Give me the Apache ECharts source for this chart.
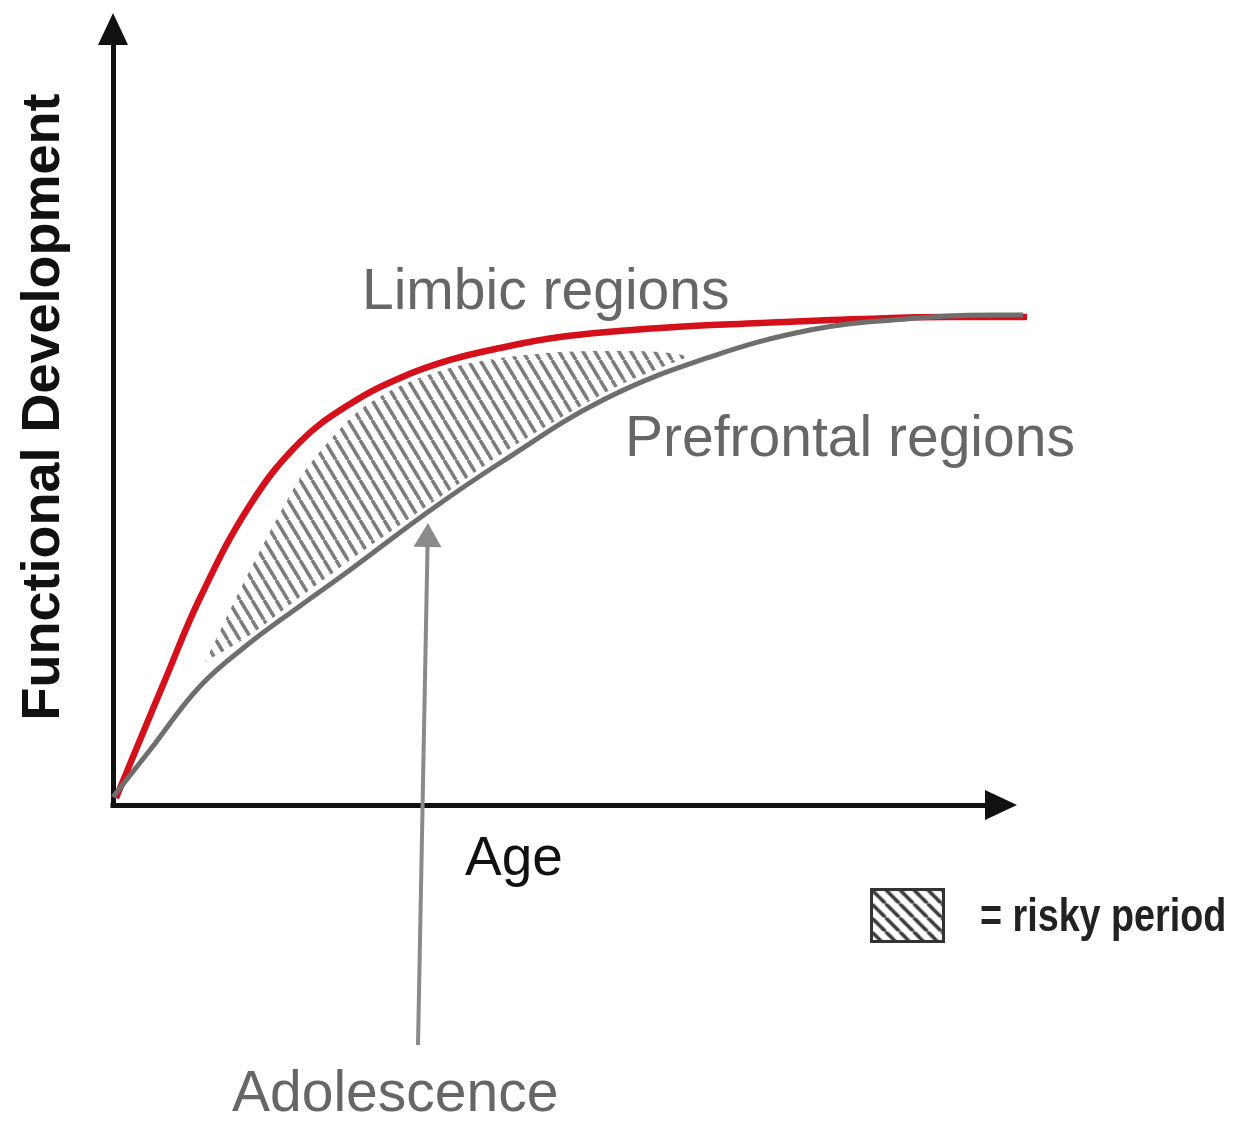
<!DOCTYPE html>
<html>
<head>
<meta charset="utf-8">
<script src="https://cdn.jsdelivr.net/npm/echarts@6/dist/echarts.min.js"></script>
<style>
  html, body { margin: 0; padding: 0; background: #fff; }
  #main { width: 1234px; height: 1123px; }
</style>
</head>
<body>
<div id="main"></div>
<script>
// age on x (0-100), functional development on y (0-100)
var limbicX = [0.34, 3.04, 5.86, 9.80, 15.43, 21.06, 26.69, 32.32, 37.95, 43.58, 50.34, 61.60, 72.86, 84.12, 94.26, 102.93];
var limbicY = [0.90, 8.38, 16.11, 26.68, 38.66, 46.78, 51.68, 55.03, 57.35, 58.89, 60.31, 61.47, 62.11, 62.63, 62.89, 62.89];

var prefrontalX = [0, 4.17, 9.80, 15.43, 21.06, 26.69, 35.47, 43.58, 55.18, 67.23, 78.49, 87.84, 99.10, 102.48];
var prefrontalY = [1.03, 7.09, 15.30, 20.90, 25.64, 30.28, 37.76, 44.07, 52.19, 57.73, 61.21, 62.50, 63.14, 63.14];

// hatched "risky period" band
var hatchX      = [10.36, 15.43, 21.06, 24.44, 27.81, 32.32, 37.95, 43.58, 50.34, 57.09, 61.60, 64.98];
var hatchTop    = [18.43, 30.28, 42.14, 47.04, 50.90, 53.99, 56.31, 57.60, 58.38, 58.51, 58.38, 57.86];
var hatchBottom = [18.43, 21.90, 26.80, 29.64, 32.47, 36.08, 40.59, 45.10, 49.87, 54.12, 56.31, 57.86];

// adolescence pointer: from below the axis up to the prefrontal curve
var arrowX = [34.35, 35.47];
var arrowY = [-30.93, 36.34];

function pairs(xs, ys) {
  var out = [];
  for (var i = 0; i < xs.length; i++) out.push([xs[i], ys[i]]);
  return out;
}

function stripes(w, h, color, width) {
  var c = document.createElement('canvas');
  c.width = w; c.height = h;
  var ctx = c.getContext('2d');
  ctx.strokeStyle = color;
  ctx.lineWidth = width;
  for (var k = -1; k <= 1; k++) {
    ctx.beginPath();
    ctx.moveTo(k * w, 0);
    ctx.lineTo(k * w + w, h);
    ctx.stroke();
  }
  return { image: c, repeat: 'repeat' };
}

var bandPattern = stripes(12, 20, '#7d7d7d', 3.5);
var legendPattern = stripes(14, 14, '#3a3a3a', 3.5);

var chart = echarts.init(document.getElementById('main'));
var gray = '#666';
var font = "'Liberation Sans', Arial, sans-serif";

var hidden = {
  axisLine: { show: false }, axisTick: { show: false },
  axisLabel: { show: false }, splitLine: { show: false }
};
var arrowAxis = {
  axisLine: { show: true, onZero: false, symbol: ['none', 'triangle'], symbolSize: [30, 32],
    lineStyle: { color: '#111', width: 5, cap: 'square' } },
  axisTick: { show: false }, axisLabel: { show: false }, splitLine: { show: false }
};

chart.setOption({
  animation: false,
  backgroundColor: '#fff',
  // grid 0 carries the drawn axes, grid 1 (same scale, a little wider) carries the curves
  grid: [
    { left: 113, top: 29, right: 233, bottom: 318 },
    { left: 113, top: 29, right: 206.4, bottom: 318 }
  ],
  xAxis: [
    Object.assign({ type: 'value', min: 0, max: 100, gridIndex: 0 }, arrowAxis),
    Object.assign({ type: 'value', min: 0, max: 103, gridIndex: 1 }, hidden)
  ],
  yAxis: [
    Object.assign({ type: 'value', min: 0, max: 100, gridIndex: 0 }, arrowAxis),
    Object.assign({ type: 'value', min: 0, max: 100, gridIndex: 1 }, hidden)
  ],
  legend: {
    data: ['= risky period'],
    left: 865, top: 883,
    icon: 'rect',
    itemWidth: 72, itemHeight: 52,
    selectedMode: false,
    itemStyle: { color: legendPattern, borderColor: '#333', borderWidth: 3 },
    formatter: function () { return ''; }
  },
  graphic: [
    { type: 'text', left: 362, top: 265,
      style: { text: 'Limbic regions', fill: gray, font: '57px ' + font } },
    { type: 'text', left: 625, top: 412,
      style: { text: 'Prefrontal regions', fill: gray, font: '57px ' + font } },
    { type: 'text', left: 465, top: 832,
      style: { text: 'Age', fill: '#111', font: '55px ' + font } },
    { type: 'text', left: 232, top: 1067,
      style: { text: 'Adolescence', fill: gray, font: '57px ' + font } },
    { type: 'text', x: 44, y: 407, rotation: Math.PI / 2,
      style: { text: 'Functional Development', fill: '#111', font: 'bold 54px ' + font,
        align: 'center', verticalAlign: 'middle' } },
    { type: 'text', x: 980, y: 918, scaleX: 0.82,
      style: { text: '= risky period', fill: '#222', font: 'bold 46px ' + font,
        align: 'left', verticalAlign: 'middle' } }
  ],
  series: [
    {
      type: 'custom',
      name: '= risky period',
      xAxisIndex: 1, yAxisIndex: 1,
      clip: false,
      z: 1,
      data: [[hatchX[0], hatchTop[0]]],
      renderItem: function (params, api) {
        var pts = [];
        for (var i = 0; i < hatchX.length; i++) pts.push(api.coord([hatchX[i], hatchTop[i]]));
        for (var j = hatchX.length - 1; j >= 0; j--) pts.push(api.coord([hatchX[j], hatchBottom[j]]));
        return { type: 'polygon', shape: { points: pts, smooth: 0.3 }, style: { fill: bandPattern } };
      }
    },
    {
      type: 'line',
      name: 'Prefrontal regions',
      xAxisIndex: 1, yAxisIndex: 1,
      data: pairs(prefrontalX, prefrontalY),
      smooth: 0.4, symbol: 'none', clip: false, z: 3,
      lineStyle: { color: '#6e6e6e', width: 5 }
    },
    {
      type: 'line',
      name: 'Limbic regions',
      xAxisIndex: 1, yAxisIndex: 1,
      data: pairs(limbicX, limbicY),
      smooth: 0.4, symbol: 'none', clip: false, z: 2,
      lineStyle: { color: '#d4111b', width: 6.5 }
    },
    {
      type: 'custom',
      name: 'Adolescence',
      xAxisIndex: 1, yAxisIndex: 1,
      clip: false,
      z: 4,
      encode: { x: [0, 2], y: [1, 3] },
      data: [[arrowX[0], arrowY[0], arrowX[1], arrowY[1]]],
      renderItem: function (params, api) {
        var a = api.coord([api.value(0), api.value(1)]);
        var b = api.coord([api.value(2), api.value(3)]);
        var dx = b[0] - a[0], dy = b[1] - a[1];
        var len = Math.sqrt(dx * dx + dy * dy);
        var ux = dx / len, uy = dy / len;
        var headLen = 24, headW = 14;
        var base = [b[0] - ux * headLen, b[1] - uy * headLen];
        return {
          type: 'group',
          children: [
            { type: 'line', shape: { x1: a[0], y1: a[1], x2: base[0], y2: base[1] },
              style: { stroke: '#8a8a8a', lineWidth: 4 } },
            { type: 'polygon',
              shape: { points: [b, [base[0] - uy * headW, base[1] + ux * headW], [base[0] + uy * headW, base[1] - ux * headW]] },
              style: { fill: '#8a8a8a' } }
          ]
        };
      }
    }
  ]
});
</script>
</body>
</html>
